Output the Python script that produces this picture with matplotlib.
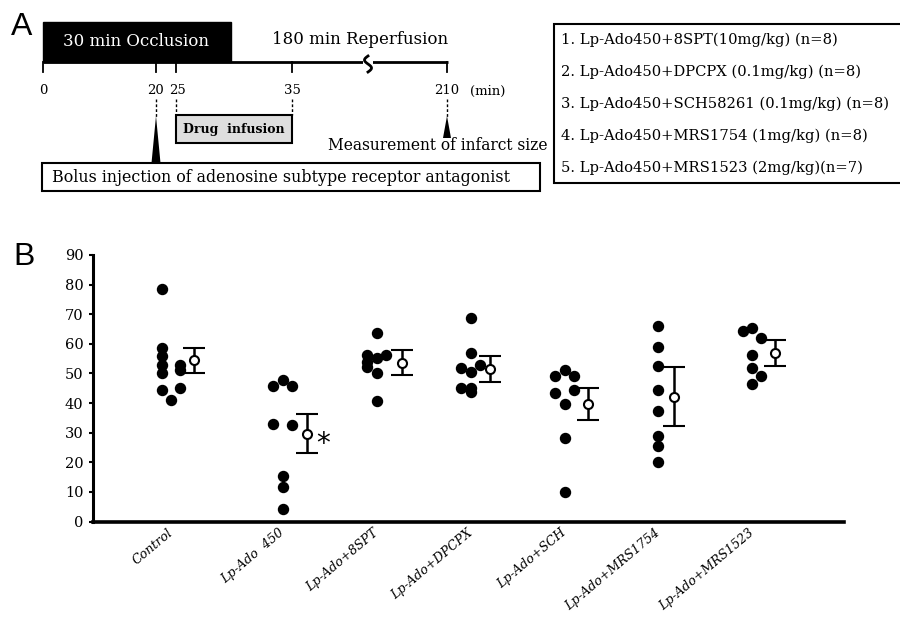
import matplotlib
matplotlib.use("Agg")
import matplotlib.pyplot as plt
from matplotlib.patches import Rectangle, Polygon
import numpy as np

# ---------------- data ----------------
groups = ["Control", "Lp-Ado  450", "Lp-Ado+8SPT", "Lp-Ado+DPCPX",
          "Lp-Ado+SCH", "Lp-Ado+MRS1754", "Lp-Ado+MRS1523"]

control = [78.5, 58.5, 56.0, 53.0, 50.0, 44.5, 41.0, 53.0, 51.0, 45.0]
lpado = [45.8, 47.8, 45.8, 32.8, 32.6, 15.5, 11.8, 4.1]
spt = [63.8, 56.2, 55.1, 56.2, 52.3, 50.0, 40.7, 54.0]
dpcpx = [68.6, 56.8, 51.9, 50.6, 52.9, 45.0, 45.0, 43.8]
sch = [49.2, 51.2, 49.2, 43.3, 44.4, 39.7, 28.3, 10.1]
mrs1754 = [66.0, 58.8, 52.5, 44.4, 37.3, 29.0, 25.6, 20.2]
mrs1523 = [64.3, 65.2, 61.9, 56.2, 51.7, 49.2, 46.3]

# column of each dot in the swarm (-1 left, 0 centre, +1 right)
control_col = [-1, -1, -1, -1, -1, -1, 0, 1, 1, 1]
lpado_col = [-1, 0, 1, -1, 1, 0, 0, 0]
spt_col = [0, -1, 0, 1, -1, 0, 0, -1]
dpcpx_col = [0, 0, -1, 0, 1, -1, 0, 0]
sch_col = [-1, 0, 1, -1, 1, 0, 0, 0]
mrs1754_col = [0, 0, 0, 0, 0, 0, 0, 0]
mrs1523_col = [-1, 0, 1, 0, 0, 1, 0]

means = [54.5, 29.6, 53.6, 51.5, 39.7, 42.2, 57.0]
sem = [4.2, 6.6, 4.2, 4.3, 5.3, 10.0, 4.4]

yticks = [0, 10, 20, 30, 40, 50, 60, 70, 80, 90]

legend_lines = [
    "1. Lp-Ado450+8SPT(10mg/kg) (n=8)",
    "2. Lp-Ado450+DPCPX (0.1mg/kg) (n=8)",
    "3. Lp-Ado450+SCH58261 (0.1mg/kg) (n=8)",
    "4. Lp-Ado450+MRS1754 (1mg/kg) (n=8)",
    "5. Lp-Ado450+MRS1523 (2mg/kg)(n=7)",
]
time_labels = ["0", "20", "25", "35", "210"]

# ---------------- figure ----------------
SERIF = ["DejaVu Serif"]
plt.rcParams["font.family"] = SERIF

fig = plt.figure(figsize=(9, 6.19), dpi=100)

# ----- panel A (schematic drawn in pixel coordinates) -----
axA = fig.add_axes([0, 0, 1, 1])
axA.set_xlim(0, 900)
axA.set_ylim(619, 0)
axA.axis("off")

axA.text(11, 27, "A", fontsize=23, family="Liberation Sans", va="center", ha="left")
axA.text(13, 257, "B", fontsize=23, family="Liberation Sans", va="center", ha="left")

# occlusion box
tl_y = 62
axA.add_patch(Rectangle((43, 22), 188, tl_y - 22, facecolor="black", edgecolor="black"))
axA.text(136, 42, "30 min Occlusion", color="white", fontsize=12, ha="center", va="center")
# timeline
axA.plot([43, 448], [tl_y, tl_y], color="black", lw=2, solid_capstyle="butt")
tick_x = [43, 156, 176, 292, 447]
for tx in tick_x:
    axA.plot([tx, tx], [tl_y, tl_y + 10], color="black", lw=1.3)
label_x = [43, 155, 178, 292, 447]
for tx, lab in zip(label_x, time_labels):
    axA.text(tx, 91, lab, fontsize=9.5, ha="center", va="center")
axA.text(470, 91, "(min)", fontsize=9.5, ha="left", va="center")
axA.text(360, 40, "180 min Reperfusion", fontsize=12, ha="center", va="center")
# break squiggle
axA.add_patch(Rectangle((363, tl_y - 3), 10, 6, facecolor="white", edgecolor="none", zorder=3))
t = np.linspace(-1, 1, 50)
axA.plot(368 + 3.5 * np.sin(np.pi * t), tl_y + 2 + 8 * t, color="black", lw=2, zorder=4)

# dashed leaders
for tx, y0, y1 in [(156, 99, 118), (176, 99, 115), (292, 99, 115), (447, 99, 118)]:
    axA.plot([tx, tx], [y0, y1], color="black", lw=1, ls=(0, (2, 1.5)))
# bolus triangle
axA.add_patch(Polygon([[156, 116], [151.5, 163], [160.5, 163]], closed=True, facecolor="black"))
# measurement triangle
axA.add_patch(Polygon([[447, 116], [443, 138], [451, 138]], closed=True, facecolor="black"))
axA.text(547, 146, "Measurement of infarct size", fontsize=11.2, ha="right", va="center")

# drug infusion box
axA.add_patch(Rectangle((176, 115), 116, 28, facecolor="#dedede", edgecolor="black", lw=1.5))
axA.text(234, 130, "Drug  infusion", fontsize=9, fontweight="bold", ha="center", va="center")

# bolus box
axA.add_patch(Rectangle((42, 163), 498, 28, facecolor="white", edgecolor="black", lw=1.5))
axA.text(52, 177, "Bolus injection of adenosine subtype receptor antagonist", fontsize=11.4,
         ha="left", va="center")

# legend box
axA.add_patch(Rectangle((554, 24), 360, 159, facecolor="white", edgecolor="black", lw=1.5,
                        clip_on=False))
for i, line in enumerate(legend_lines):
    axA.text(561, 40 + 32 * i, line, fontsize=10.6, ha="left", va="center")

# ----- panel B -----
UNIT = 94.0  # pixels per group step
x0_px, xl_px, xr_px = 171.0, 93.0, 844.0
axB = fig.add_axes([xl_px / 900, 1 - 521.5 / 619, (xr_px - xl_px) / 900, (521.5 - 255) / 619])
axB.patch.set_alpha(0)
axB.set_xlim((xl_px - x0_px) / UNIT, (xr_px - x0_px) / UNIT)
axB.set_ylim(0, 90)

xpos = [0, 1.19, 2.19, 3.19, 4.19, 5.18, 6.18]
mean_off = [0.245, 0.255, 0.27, 0.2, 0.245, 0.17, 0.245]
col_step = 0.1

all_vals = [control, lpado, spt, dpcpx, sch, mrs1754, mrs1523]
all_cols = [control_col, lpado_col, spt_col, dpcpx_col, sch_col, mrs1754_col, mrs1523_col]
for xp, vals, cols in zip(xpos, all_vals, all_cols):
    xs = [xp + c * col_step for c in cols]
    axB.plot(xs, vals, "o", color="black", ms=7.2, mec="black", clip_on=False, zorder=3)

for xp, off, m, s in zip(xpos, mean_off, means, sem):
    axB.errorbar(xp + off, m, yerr=s, fmt="o", color="black", mfc="white", mec="black",
                 ms=6.5, mew=1.5, elinewidth=1.8, capsize=8, capthick=1.8, zorder=4)

axB.text(xpos[1] + 0.43, means[1] - 3.5, "*", fontsize=20, ha="center", va="center",
         family="DejaVu Sans")

axB.spines["top"].set_visible(False)
axB.spines["right"].set_visible(False)
axB.spines["left"].set_linewidth(2.2)
axB.spines["bottom"].set_linewidth(2.6)
axB.set_yticks(yticks)
axB.set_yticklabels([str(v) for v in yticks], fontsize=10.5)
axB.tick_params(axis="y", length=3, width=1.5, direction="out", pad=4)
axB.set_xticks(xpos)
axB.set_xticklabels(groups, rotation=40, ha="right", va="center", rotation_mode="anchor",
                    fontsize=9.1, style="italic")
axB.tick_params(axis="x", length=0, pad=7)

fig.savefig("out.png", dpi=100)
